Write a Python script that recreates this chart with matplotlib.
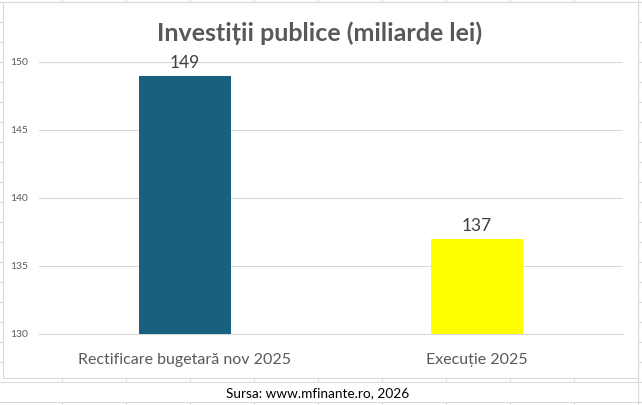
import matplotlib.pyplot as plt
from matplotlib.patches import Rectangle
from matplotlib.lines import Line2D

categories = ["Rectificare bugetară nov 2025", "Execuție 2025"]
values = [149, 137]
colors = ["#17607F", "#FFFF00"]
yticks = [130, 135, 140, 145, 150]
title = "Investiții publice (miliarde lei)"
source = "Sursa: www.mfinante.ro, 2026"

W, H = 642, 405
plt.rcParams['font.family'] = ['Lato', 'DejaVu Sans']

fig = plt.figure(figsize=(W / 100, H / 100), dpi=100)
fig.patch.set_facecolor("white")


def fx(x):
    return x / W


def fy(y):
    return 1 - y / H


# excel sheet grid behind the chart
grid_c = "#DADADA"
for x in range(62, W, 64):
    fig.add_artist(Line2D([fx(x), fx(x)], [0, 1], color=grid_c, lw=0.8, zorder=0))
for y in range(2, H, 20):
    fig.add_artist(Line2D([0, 1], [fy(y), fy(y)], color=grid_c, lw=0.8, zorder=0))

# merged cell for the source row
fig.add_artist(Rectangle((0, fy(401.5)), fx(637.5), (401.5 - 382.5) / H,
                         facecolor="white", edgecolor="none", zorder=1))
fig.text(fx(318), fy(393), source, ha="center", va="center", fontsize=9.8,
         color="black", zorder=2)

# chart frame
fig.add_artist(Rectangle((fx(3), fy(378)), (638 - 3) / W, (378 - 2) / H,
                         facecolor="white", edgecolor="#D9D9D9", lw=0.8, zorder=1))

fig.text(fx(320), fy(33), title, ha="center", va="center", fontsize=18,
         fontweight="bold", color="#595959", zorder=3)

ax = fig.add_axes([fx(39), fy(334), (623 - 39) / W, (334 - 62) / H], zorder=3)
ax.patch.set_alpha(0)

x = list(range(len(categories)))
bars = ax.bar(x, values, width=0.315, color=colors, zorder=3)
for b, v in zip(bars, values):
    ax.text(b.get_x() + b.get_width() / 2, v + 0.35, str(v), ha="center", va="bottom",
            fontsize=12.5, color="#404040", clip_on=False)

ax.set_xlim(-0.5, 1.5)
ax.set_ylim(130, 150)
ax.set_yticks(yticks)
ax.set_yticklabels([str(t) for t in yticks], fontsize=7.5, color="#595959")
ax.set_xticks(x)
ax.set_xticklabels(categories, fontsize=11.5, color="#595959")
ax.tick_params(axis="y", length=0, pad=8)
ax.tick_params(axis="x", length=0, pad=14)
ax.grid(axis="y", color="#D9D9D9", lw=0.8, zorder=0)
for s in ["top", "right", "left"]:
    ax.spines[s].set_visible(False)
ax.spines["bottom"].set_color("#D9D9D9")
ax.spines["bottom"].set_linewidth(0.8)

fig.savefig("out.png", dpi=100)
